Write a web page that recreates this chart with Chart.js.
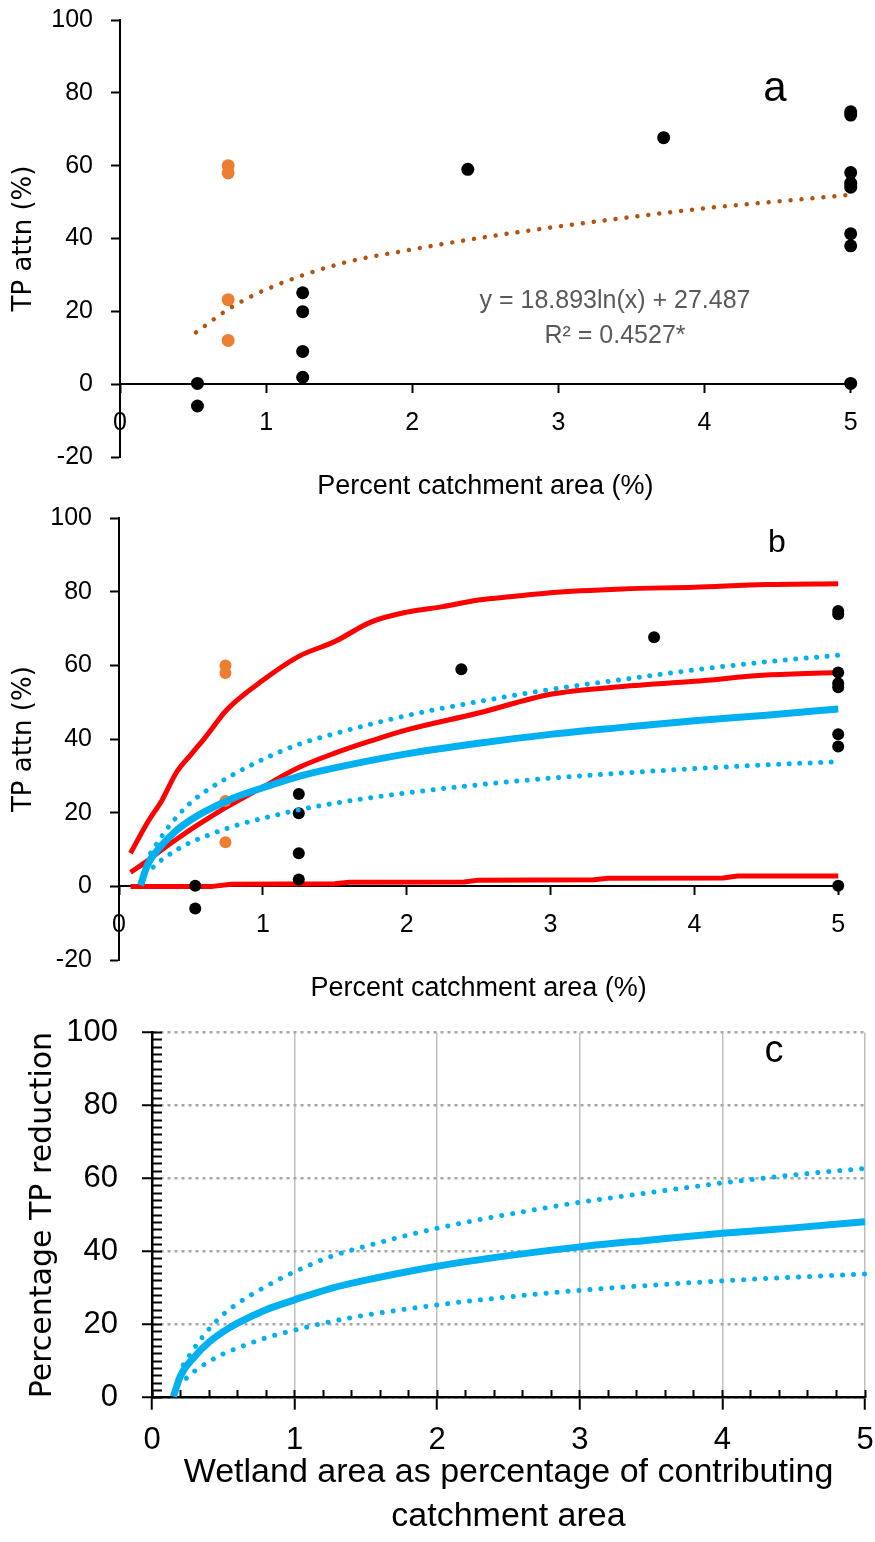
<!DOCTYPE html>
<html>
<head>
<meta charset="utf-8">
<script src="https://cdn.jsdelivr.net/npm/chart.js@4"></script>
<style>
html,body{margin:0;padding:0;background:#fff;}
body{width:875px;height:1542px;position:relative;overflow:hidden;}
.box{position:absolute;left:0;width:875px;}
.lbl{position:absolute;font-family:'Liberation Sans',Arial,sans-serif;color:#000;line-height:1;white-space:nowrap;transform:translateX(-50%);}
</style>
</head>
<body>
<div class="box" style="top:0;height:503px"><canvas id="ca"></canvas></div>
<div class="box" style="top:503px;height:502px"><canvas id="cb"></canvas></div>
<div class="box" style="top:1010px;height:532px"><canvas id="cc"></canvas></div>
<div class="lbl" style="left:775px;top:66px;font-size:42px">a</div>
<div class="lbl" style="left:777px;top:525px;font-size:32px">b</div>
<div class="lbl" style="left:774px;top:1030px;font-size:38px">c</div>
<div class="lbl" style="left:615px;top:282px;font-size:25px;line-height:35px;color:#595959;text-align:center">y = 18.893ln(x) + 27.487<br>R² = 0.4527*</div>
<script>
// ---- data ----
const blackX = [0.53, 0.53, 1.25, 1.25, 1.25, 1.25, 2.38, 3.72, 5, 5, 5, 5, 5, 5, 5, 5];
const blackY = [0.2, -6, 25.1, 19.9, 9, 1.9, 59, 67.7, 74.8, 73.9, 58.1, 55.2, 54.1, 41.3, 38, 0.2];
const orangeX = [0.74, 0.74, 0.74, 0.74];
const orangeY = [60, 58, 23.2, 12];
const trendX = [0.52, 0.75, 1, 1.5, 2, 2.5, 3, 3.5, 4, 4.5, 5];
const trendY = [14.2, 20.8, 26, 33, 37, 40.4, 43.3, 45.9, 48.3, 50.2, 52];
const fitX = [0.15, 0.2, 0.3, 0.4, 0.5, 0.6, 0.8, 1, 1.25, 1.5, 2, 2.5, 3, 3.5, 4, 4.5, 5];
const fitY = [0.3, 6, 11.3, 15.2, 18.1, 20.4, 24.1, 26.8, 29.9, 32.2, 36, 38.9, 41.3, 43.2, 45, 46.5, 48.2];
const upperX = [0.22, 0.25, 0.3, 0.4, 0.5, 0.6, 0.8, 1, 1.25, 1.5, 2, 2.5, 3, 3.5, 4, 4.5, 5];
const upperY = [9, 10.8, 13.8, 18.8, 22.8, 25.8, 30.5, 34.5, 38.6, 41.5, 46.4, 50.2, 53.5, 56.2, 58.8, 61, 62.8];
const lowerX = [0.18, 0.25, 0.3, 0.4, 0.5, 0.6, 0.8, 1, 1.25, 1.5, 2, 2.5, 3, 3.5, 4, 4.5, 5];
const lowerY = [3.5, 5.6, 7.3, 9.9, 12, 13.6, 16.4, 18.5, 20.8, 22.6, 25.4, 27.6, 29.4, 30.8, 32, 33, 33.9];
const redHiX = [0.08, 0.2, 0.3, 0.4, 0.5, 0.6, 0.75, 1, 1.25, 1.5, 1.75, 2, 2.25, 2.5, 2.75, 3, 3.5, 4, 4.5, 5];
const redHiY = [9, 17.5, 23.5, 31, 35.8, 40.5, 48, 56, 62.5, 66.5, 71.8, 74.5, 76, 77.8, 78.8, 79.8, 80.8, 81.3, 82, 82.2];
const redMidX = [0.08, 0.2, 0.3, 0.4, 0.5, 0.6, 0.75, 1, 1.25, 1.5, 1.75, 2, 2.5, 3, 3.5, 4, 4.5, 5];
const redMidY = [3.8, 7, 10, 12.8, 15.5, 18, 21.6, 27, 32.3, 36.2, 39.5, 42.5, 47.1, 52.2, 54.3, 55.7, 57.4, 58.1];
const redLoX = [0.08, 0.65, 0.78, 1.5, 1.6, 2.4, 2.5, 3.3, 3.4, 4.2, 4.3, 5];
const redLoY = [0, 0, 0.6, 0.7, 1.1, 1.2, 1.7, 1.8, 2.2, 2.3, 2.8, 2.8];

const xTitleAB = 'Percent catchment area (%)';
const yTitleAB = 'TP attn (%)';
const xTitleC = ['Wetland area as percentage of contributing', 'catchment area'];
const yTitleC = 'Percentage TP reduction';

// ---- helpers ----
const SANS = "'Liberation Sans', Arial, sans-serif";
const TFONT = "'DejaVu Sans', sans-serif";
Chart.defaults.font.family = SANS;
Chart.defaults.color = '#000';

function pts(xs, ys) { return xs.map((x, i) => ({x: x, y: ys[i]})); }
function dotsSet(xs, ys, color, r, order) {
  return {data: pts(xs, ys), showLine: false, pointRadius: r, pointHoverRadius: r,
    backgroundColor: color, pointBorderWidth: 0, borderWidth: 0, order: order, clip: false};
}
function lineSet(xs, ys, color, w, dash, order, tension) {
  return {data: pts(xs, ys), showLine: true, pointRadius: 0, pointHoverRadius: 0,
    borderColor: color, backgroundColor: color, borderWidth: w,
    borderDash: dash || [], borderCapStyle: dash ? 'round' : 'butt', borderJoinStyle: 'round',
    cubicInterpolationMode: tension ? 'monotone' : 'default', tension: 0, fill: false, order: order, clip: false};
}
const common = {responsive: true, maintainAspectRatio: false, animation: false, events: [],
  plugins: {legend: {display: false}, tooltip: {enabled: false}}};

function abOptions(cfg) {
  return Object.assign({}, common, {
    layout: {padding: {top: cfg.padTop, right: cfg.padRight, bottom: 0, left: 0}},
    scales: {
      x: {type: 'linear', position: {y: 0}, min: 0, max: 5,
        ticks: {stepSize: 1, font: {size: 25}, padding: 16, color: '#000'},
        grid: {drawOnChartArea: false, tickLength: 8, tickColor: '#000', tickWidth: 2},
        border: {color: '#000', width: 2},
        afterFit: s => { s.paddingLeft = 0; s.paddingRight = 0; }},
      x2: {type: 'linear', position: 'bottom', min: 0, max: 5,
        ticks: {display: false}, grid: {display: false}, border: {display: false},
        title: {display: true, text: cfg.xTitle, font: {size: 27}, color: '#000', padding: 0},
        afterFit: s => { s.height = cfg.xH; }},
      y: {type: 'linear', position: 'left', min: -20, max: 100,
        ticks: {stepSize: 20, font: {size: 25}, padding: 18, color: '#000'},
        grid: {drawOnChartArea: false, tickLength: 9, tickColor: '#000', tickWidth: 2},
        border: {color: '#000', width: 2},
        title: {display: true, text: cfg.yTitle, font: {family: TFONT, size: 26}, color: '#000', padding: {top: 9, bottom: 0}},
        afterFit: s => { s.width = cfg.yW; s.paddingTop = 0; s.paddingBottom = 0; }}
    }
  });
}

// ---- panel a ----
new Chart(document.getElementById('ca'), {
  type: 'scatter',
  data: {datasets: [
    lineSet(trendX, trendY, '#B4520E', 4.5, [0.001, 11], 0, true),
    dotsSet(orangeX, orangeY, '#ED7D31', 6.5, 1),
    dotsSet(blackX, blackY, '#000000', 6.5, 2)
  ]},
  options: abOptions({padTop: 20, padRight: 24.3, xH: 46, yW: 120, xTitle: xTitleAB, yTitle: yTitleAB})
});

// ---- panel b ----
new Chart(document.getElementById('cb'), {
  type: 'scatter',
  data: {datasets: [
    lineSet(fitX, fitY, '#00B0F0', 7, null, 0, true),
    lineSet(upperX, upperY, '#00B0F0', 5, [0.001, 10.5], 1, true),
    lineSet(lowerX, lowerY, '#00B0F0', 5, [0.001, 10.5], 1, true),
    dotsSet(blackX, blackY, '#000000', 6, 2),
    dotsSet(orangeX, orangeY, '#ED7D31', 6, 3),
    lineSet(redHiX, redHiY, '#FF0000', 5, null, 4, true),
    lineSet(redMidX, redMidY, '#FF0000', 5, null, 4, true),
    lineSet(redLoX, redLoY, '#FF0000', 5, null, 4, false)
  ]},
  options: abOptions({padTop: 15.3, padRight: 36.8, xH: 45, yW: 119, xTitle: xTitleAB, yTitle: yTitleAB})
});

// ---- panel c ----
new Chart(document.getElementById('cc'), {
  type: 'scatter',
  data: {datasets: [
    lineSet(fitX, fitY, '#00B0F0', 7, null, 0, true),
    lineSet(upperX, upperY, '#00B0F0', 5, [0.001, 11], 1, true),
    lineSet(lowerX, lowerY, '#00B0F0', 5, [0.001, 11], 1, true)
  ]},
  options: Object.assign({}, common, {
    layout: {padding: {top: 22.5, right: 10, bottom: 0, left: 0}},
    scales: {
      x: {type: 'linear', position: 'bottom', min: 0, max: 5,
        ticks: {stepSize: 1, font: {size: 31}, padding: 12, color: '#000'},
        grid: {color: c => (c.tick && c.tick.value === 0) ? 'rgba(0,0,0,0)' : '#BFBFBF',
          lineWidth: 1.5, tickLength: 12, tickColor: '#000', tickWidth: 2},
        border: {color: '#000', width: 2.5},
        title: {display: true, text: xTitleC, font: {size: 34, lineHeight: 1.3}, color: '#000', padding: {top: 0, bottom: 3}},
        afterFit: s => { s.height = 144.3; s.paddingLeft = 0; s.paddingRight = 0; }},
      xm: {type: 'linear', position: {y: 0}, min: 0, max: 5,
        ticks: {display: false, stepSize: 0.2},
        grid: {drawOnChartArea: false, tickLength: -8, tickColor: '#000', tickWidth: 2},
        border: {display: false}},
      y: {type: 'linear', position: 'left', min: 0, max: 100,
        ticks: {stepSize: 20, font: {size: 31}, padding: 24, color: '#000'},
        grid: {color: '#A6A6A6', lineWidth: 2.5, tickLength: 10, tickColor: '#000', tickWidth: 2},
        border: {color: '#000', width: 2.5, dash: [3, 4]},
        title: {display: true, text: yTitleC, font: {family: TFONT, size: 30}, color: '#000', padding: {top: 25, bottom: 0}},
        afterFit: s => { s.width = 152; s.paddingTop = 0; s.paddingBottom = 0; }},
      ym: {type: 'linear', position: {x: 0}, min: 0, max: 100,
        ticks: {display: false, stepSize: 2},
        grid: {drawOnChartArea: false, tickLength: -10, tickColor: '#000', tickWidth: 2},
        border: {display: false},
        afterFit: s => { s.paddingTop = 0; s.paddingBottom = 0; }}
    }
  })
});
</script>
</body>
</html>
